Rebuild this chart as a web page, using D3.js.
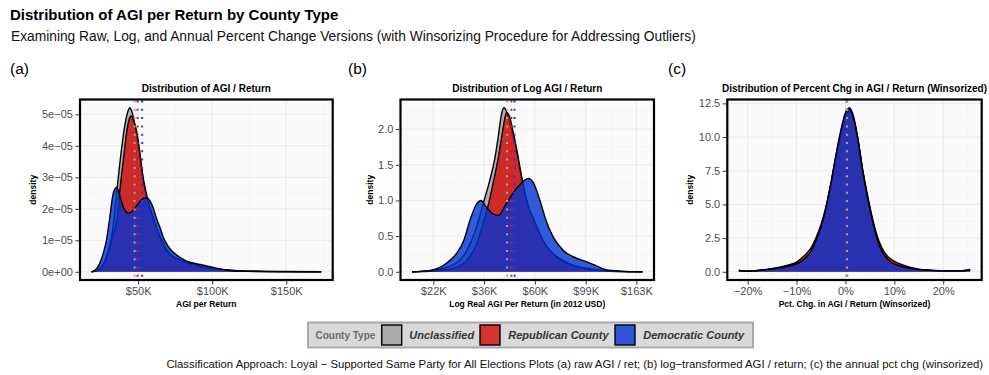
<!DOCTYPE html>
<html><head><meta charset="utf-8">
<script src="https://cdn.jsdelivr.net/npm/d3@7"></script>
<style>
html,body{margin:0;padding:0;background:#fff;}
svg{display:block;font-family:"Liberation Sans",Arial,Helvetica,sans-serif;}
</style></head>
<body><svg id="chart" width="989" height="375"></svg>
<script>
// ---------- DATA ----------
const groups = ["Unclassified", "Republican County", "Democratic County"];

// Panel (a): AGI per return in $K, density in units of 1e-5
const rawUnclassified = [[18.5,0],[22,0.04],[26,0.22],[30,0.7],[33,1.4],[35,2.3],[37.7,3.47],[40.6,4.53],[42.5,5.0],[44.4,5.21],[46,5.05],[48,4.6],[50,4.05],[52,3.4],[54,2.75],[56,2.3],[58,1.95],[61,1.55],[65,1.1],[70,0.65],[76,0.42],[85,0.26],[95,0.15],[105,0.08],[120,0.03],[150,0.008],[173.6,0]];
const rawRepublican = [[18.5,0],[22,0.03],[26,0.18],[30,0.6],[33,1.15],[36,1.75],[37.2,2.4],[38.5,2.95],[40,3.55],[42,4.35],[44,4.85],[45.5,4.95],[47,4.8],[49,4.45],[51,3.85],[53,3.1],[55,2.6],[57,2.2],[60,1.75],[62.4,1.42],[66,0.95],[69,0.68],[74,0.47],[78,0.37],[85,0.25],[92,0.16],[100,0.1],[110,0.05],[125,0.02],[150,0.005],[173.6,0]];
const rawDemocratic = [[18.5,0],[22,0.1],[24,0.26],[26.5,0.6],[28.6,1.0],[30.9,1.74],[33.1,2.47],[35.4,2.68],[36.5,2.6],[38,2.35],[40,2.05],[42,1.9],[43.2,1.86],[46,1.92],[49,2.1],[52,2.28],[55.6,2.35],[58,2.25],[60,2.05],[62,1.75],[64.6,1.42],[67,1.1],[69,0.9],[72,0.7],[76,0.53],[82.7,0.34],[91.7,0.23],[100.7,0.14],[109.7,0.05],[118.7,0.02],[135,0.005],[173.6,0]];
const rawMeans = [47.6, 49.6, 52.7];
const rawXTicks = [50, 100, 150];
const rawXTickLabels = ["$50K", "$100K", "$150K"];
const rawYTicks = [0, 1, 2, 3, 4, 5];
const rawYTickLabels = ["0e+00", "1e\u221205", "2e\u221205", "3e\u221205", "4e\u221205", "5e\u221205"];

// Panel (b): log real AGI per return
const logUnclassified = [[9.79,0],[10.0,0.02],[10.2,0.1],[10.33,0.3],[10.42,0.6],[10.5,1.0],[10.55,1.25],[10.58,1.42],[10.607,1.6],[10.64,1.9],[10.67,2.2],[10.695,2.3],[10.72,2.25],[10.75,2.1],[10.78,1.93],[10.81,1.75],[10.84,1.53],[10.87,1.3],[10.9,1.1],[10.94,0.9],[10.98,0.75],[11.03,0.58],[11.08,0.43],[11.15,0.3],[11.21,0.22],[11.3,0.14],[11.41,0.08],[11.51,0.05],[11.61,0.03],[11.8,0.01],[12.06,0]];
const logRepublican = [[9.79,0],[10.0,0.01],[10.2,0.05],[10.33,0.16],[10.43,0.4],[10.48,0.63],[10.52,0.82],[10.56,1.05],[10.6,1.32],[10.64,1.6],[10.68,1.95],[10.72,2.23],[10.75,2.18],[10.78,2.0],[10.81,1.8],[10.84,1.57],[10.87,1.33],[10.9,1.12],[10.94,0.9],[10.98,0.77],[11.03,0.6],[11.08,0.44],[11.15,0.3],[11.21,0.21],[11.3,0.13],[11.41,0.07],[11.51,0.04],[11.61,0.02],[11.8,0.005],[12.06,0]];
const logDemocratic = [[9.79,0],[9.97,0.02],[10.13,0.12],[10.23,0.26],[10.3,0.44],[10.36,0.72],[10.43,0.96],[10.47,1.0],[10.52,0.91],[10.59,0.81],[10.64,0.79],[10.72,0.96],[10.82,1.17],[10.94,1.31],[10.98,1.26],[11.05,1.0],[11.11,0.72],[11.18,0.49],[11.28,0.3],[11.41,0.19],[11.51,0.14],[11.61,0.08],[11.7,0.03],[11.84,0.01],[12.06,0]];
const logMeans = [10.727, 10.769, 10.80];
const logXTicks = [10, 10.5, 11, 11.5, 12];
const logXTickLabels = ["$22K", "$36K", "$60K", "$99K", "$163K"];
const logYTicks = [0, 0.5, 1, 1.5, 2];
const logYTickLabels = ["0.0", "0.5", "1.0", "1.5", "2.0"];

// Panel (c): pct change in AGI per return (winsorized), in %
const pctUnclassified = [[-21.8,0.12],[-21,0.06],[-20,0.05],[-18,0.1],[-16,0.17],[-14,0.27],[-12,0.42],[-10,0.62],[-9,0.85],[-8,1.15],[-7,1.6],[-6,2.4],[-5,3.4],[-4,4.75],[-3,6.5],[-2,8.5],[-1,10.3],[0,11.7],[0.8,12.18],[1.6,11.6],[2.5,10.0],[3.5,7.6],[4.5,5.6],[5.5,3.9],[6.5,2.5],[7.5,1.6],[8.5,1.05],[9.5,0.7],[10.5,0.55],[12,0.38],[14,0.22],[16,0.14],[18,0.1],[20,0.08],[22,0.07],[24,0.08],[25.5,0.17]];
const pctRepublican = [[-21.8,0.1],[-21,0.05],[-20,0.05],[-18,0.1],[-16,0.18],[-14,0.3],[-12,0.48],[-10,0.72],[-9,1.0],[-8,1.35],[-7,1.8],[-6,2.55],[-5,3.5],[-4,4.8],[-3,6.5],[-2,8.4],[-1,10.1],[0,11.5],[0.8,11.95],[1.6,11.4],[2.5,9.9],[3.5,7.6],[4.5,5.7],[5.5,4.0],[6.5,2.65],[7.5,1.75],[8.5,1.2],[9.5,0.88],[10.5,0.68],[12,0.48],[14,0.27],[16,0.15],[18,0.1],[20,0.08],[22,0.07],[24,0.08],[25.5,0.15]];
const pctDemocratic = [[-21.8,0.1],[-21,0.05],[-20,0.04],[-18,0.08],[-16,0.15],[-14,0.25],[-12,0.38],[-10,0.58],[-9,0.78],[-8,1.08],[-7,1.55],[-6,2.35],[-5,3.35],[-4,4.7],[-3,6.5],[-2,8.55],[-1,10.4],[0,11.8],[0.6,12.1],[1.5,11.6],[2.5,9.9],[3.5,7.5],[4.5,5.5],[5.5,3.8],[6.5,2.4],[7.5,1.5],[8.5,0.98],[9.5,0.65],[10.5,0.5],[12,0.35],[14,0.2],[16,0.13],[18,0.09],[20,0.07],[22,0.06],[24,0.07],[25.5,0.15]];
const pctMeans = [0.3, 0.35, 0.25];
const pctXTicks = [-20, -10, 0, 10, 20];
const pctXTickLabels = ["\u221220%", "\u221210%", "0%", "10%", "20%"];
const pctYTicks = [0, 2.5, 5, 7.5, 10, 12.5];
const pctYTickLabels = ["0.0", "2.5", "5.0", "7.5", "10.0", "12.5"];

// ---------- STYLE ----------
const fills = ["#9f9f9f", "#d40909", "#0033d3"];
const lineCols = ["#a8a8a8", "#e8141c", "#1a3fe6"];
const fillOpacity = 0.8;

const svg = d3.select("#chart");

function fitText(sel, startX, endX, baseSize) {
  sel.attr("font-size", baseSize);
  const w = sel.node().getComputedTextLength();
  sel.attr("font-size", baseSize * (endX - startX) / w);
}

svg.append("text").attr("x", 10).attr("y", 20).attr("font-size", 15).attr("font-weight", "bold")
  .attr("fill", "#000").text("Distribution of AGI per Return by County Type");
const sub = svg.append("text").attr("x", 11).attr("y", 41).attr("fill", "#111")
  .text("Examining Raw, Log, and Annual Percent Change Versions (with Winsorizing Procedure for Addressing Outliers)");
fitText(sub, 11, 697, 13);

const panels = [
  {tag: "(a)", tagX: 10, title: "Distribution of AGI / Return", xTitle: "AGI per Return",
   left: 80, right: 332.7, series: [rawUnclassified, rawRepublican, rawDemocratic], means: rawMeans,
   xt: rawXTicks, xtl: rawXTickLabels, yt: rawYTicks, ytl: rawYTickLabels},
  {tag: "(b)", tagX: 348, title: "Distribution of Log AGI / Return", xTitle: "Log Real AGI Per Return (in 2012 USD)",
   left: 400.5, right: 654, series: [logUnclassified, logRepublican, logDemocratic], means: logMeans,
   xt: logXTicks, xtl: logXTickLabels, yt: logYTicks, ytl: logYTickLabels},
  {tag: "(c)", tagX: 668, title: "Distribution of Percent Chg in AGI / Return (Winsorized)", xTitle: "Pct. Chg. in AGI / Return (Winsorized)",
   left: 727.3, right: 981.7, series: [pctUnclassified, pctRepublican, pctDemocratic], means: pctMeans,
   xt: pctXTicks, xtl: pctXTickLabels, yt: pctYTicks, ytl: pctYTickLabels}
];

const plotTop = 99.5, plotBottom = 280;

panels.forEach(p => {
  const all = p.series.flat();
  const xe = d3.extent(all, d => d[0]);
  const ymax = d3.max(all, d => d[1]);
  const xpad = (xe[1] - xe[0]) * 0.05, ypad = ymax * 0.05;
  const x = d3.scaleLinear().domain([xe[0] - xpad, xe[1] + xpad]).range([p.left, p.right]);
  const y = d3.scaleLinear().domain([-ypad, ymax + ypad]).range([plotBottom, plotTop]);
  const g = svg.append("g");

  svg.append("text").attr("x", p.tagX).attr("y", 73.5).attr("font-size", 15.5).attr("fill", "#000").text(p.tag);
  svg.append("text").attr("x", (p.left + p.right) / 2).attr("y", 91.7).attr("text-anchor", "middle")
    .attr("font-size", 10).attr("font-weight", "bold").attr("fill", "#000").text(p.title);

  g.append("rect").attr("x", p.left).attr("y", plotTop).attr("width", p.right - p.left).attr("height", plotBottom - plotTop).attr("fill", "#fafafa");

  // grid
  const xs = p.xt, ys = p.yt;
  const dx = xs[1] - xs[0], dy = ys[1] - ys[0];
  const xMinor = [], yMinor = [];
  for (let v = xs[0] - dx / 2; v <= x.domain()[1]; v += dx) if (v >= x.domain()[0]) xMinor.push(v);
  for (let v = ys[0] + dy / 2; v <= y.domain()[1]; v += dy) yMinor.push(v);
  g.selectAll(".xm").data(xMinor).join("line").attr("x1", d => x(d)).attr("x2", d => x(d)).attr("y1", plotTop).attr("y2", plotBottom).attr("stroke", "#f1f1f1").attr("stroke-width", 0.6);
  g.selectAll(".ym").data(yMinor).join("line").attr("y1", d => y(d)).attr("y2", d => y(d)).attr("x1", p.left).attr("x2", p.right).attr("stroke", "#f1f1f1").attr("stroke-width", 0.6);
  g.selectAll(".xg").data(xs).join("line").attr("x1", d => x(d)).attr("x2", d => x(d)).attr("y1", plotTop).attr("y2", plotBottom).attr("stroke", "#e9e9e9").attr("stroke-width", 0.9);
  g.selectAll(".yg").data(ys).join("line").attr("y1", d => y(d)).attr("y2", d => y(d)).attr("x1", p.left).attr("x2", p.right).attr("stroke", "#e9e9e9").attr("stroke-width", 0.9);

  // densities
  const area = d3.area().x(d => x(d[0])).y0(y(0)).y1(d => y(d[1])).curve(d3.curveMonotoneX);
  const line = d3.line().x(d => x(d[0])).y(d => y(d[1])).curve(d3.curveMonotoneX);
  p.series.forEach((s, i) => {
    g.append("path").attr("d", area(s)).attr("fill", fills[i]).attr("fill-opacity", fillOpacity);
    g.append("path").attr("d", line(s)).attr("fill", "none").attr("stroke", "#000").attr("stroke-width", 1.4).attr("stroke-linejoin", "round");
  });

  // mean lines (drawn Dem, Rep, Unclassified so gray on top)
  [2, 1, 0].forEach(i => {
    g.append("line").attr("x1", x(p.means[i])).attr("x2", x(p.means[i])).attr("y1", plotTop + 1).attr("y2", plotBottom)
      .attr("stroke", lineCols[i]).attr("stroke-width", 2).attr("stroke-dasharray", "2,6.3");
  });

  // border
  g.append("rect").attr("x", p.left).attr("y", plotTop).attr("width", p.right - p.left).attr("height", plotBottom - plotTop)
    .attr("fill", "none").attr("stroke", "#000").attr("stroke-width", 2.2);

  // axes
  const xAxis = d3.axisBottom(x).tickValues(p.xt).tickFormat((d, i) => p.xtl[i]).tickSize(3.5).tickPadding(2.5);
  const xa = svg.append("g").attr("transform", `translate(0,${plotBottom + 1.1})`).call(xAxis);
  const yAxis = d3.axisLeft(y).tickValues(p.yt).tickFormat((d, i) => p.ytl[i]).tickSize(3.5).tickPadding(2.5);
  const ya = svg.append("g").attr("transform", `translate(${p.left - 1.1},0)`).call(yAxis);
  [xa, ya].forEach(a => {
    a.select(".domain").remove();
    a.selectAll(".tick line").attr("stroke", "#333").attr("stroke-width", 1);
    a.selectAll(".tick text").attr("fill", "#4d4d4d").attr("font-size", 11).attr("font-family", "Liberation Sans, Arial, sans-serif");
  });
  let minX = Infinity;
  ya.selectAll(".tick text").each(function () { const b = this.getBBox(); minX = Math.min(minX, p.left - 1.1 + b.x); });
  svg.append("text").attr("transform", `translate(${minX - 5.5},${(plotTop + plotBottom) / 2}) rotate(-90)`)
    .attr("text-anchor", "middle").attr("font-size", 8.5).attr("font-weight", "bold").text("density");
  svg.append("text").attr("x", (p.left + p.right) / 2).attr("y", 306.5).attr("text-anchor", "middle")
    .attr("font-size", 8.5).attr("font-weight", "bold").text(p.xTitle);
});

// ---------- LEGEND ----------
const lg = svg.append("g");
lg.append("rect").attr("x", 308).attr("y", 322.5).attr("width", 445).attr("height", 25)
  .attr("fill", "#d9d9d9").attr("stroke", "#a9a9a9").attr("stroke-width", 2);
lg.append("text").attr("x", 315.5).attr("y", 338.5).attr("font-size", 10).attr("font-weight", "bold").attr("fill", "#6b6b6b").text("County Type");
const keyX = [381.7, 480, 615];
const labX = [409.3, 508.3, 643.3];
groups.forEach((gname, i) => {
  lg.append("rect").attr("x", keyX[i]).attr("y", 325).attr("width", 20).attr("height", 20)
    .attr("fill", "#d9d9d9").attr("stroke", "none");
  lg.append("rect").attr("x", keyX[i]).attr("y", 325).attr("width", 20).attr("height", 20)
    .attr("fill", fills[i]).attr("fill-opacity", fillOpacity).attr("stroke", "#000").attr("stroke-width", 1.4);
  lg.append("text").attr("x", labX[i]).attr("y", 339).attr("font-size", 11).attr("font-weight", "bold")
    .attr("font-style", "italic").attr("fill", "#333").text(gname);
});

const cap = svg.append("text").attr("x", 983).attr("y", 367.5).attr("text-anchor", "end").attr("fill", "#111")
  .text("Classification Approach: Loyal \u2212 Supported Same Party for All Elections Plots (a) raw AGI / ret; (b) log\u2212transformed AGI / return; (c) the annual pct chg (winsorized)");
fitText(cap, 165, 983, 10);
</script></body></html>
